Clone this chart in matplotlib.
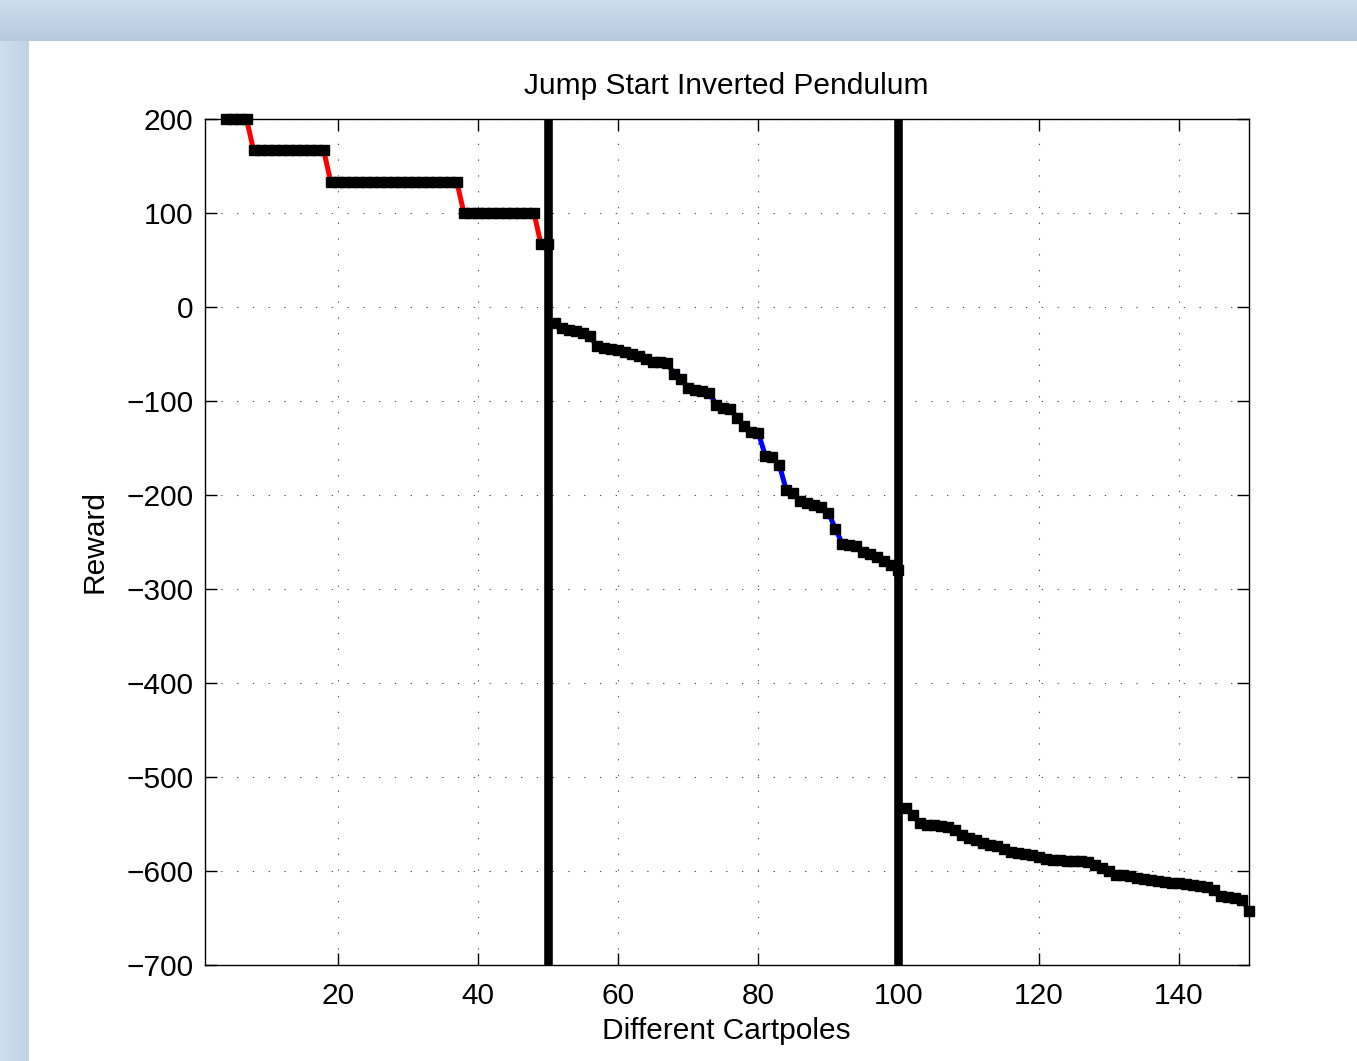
import numpy as np
import matplotlib
matplotlib.use("Agg")
import matplotlib.pyplot as plt

plt.rcParams['font.family'] = ['Liberation Sans', 'DejaVu Sans']

# ---------------- data ----------------
x_red = list(range(1, 51))
y_red = ([233.3] * 3 + [200.0] * 4 + [166.7] * 11 + [133.3] * 19 +
         [100.0] * 11 + [66.7] * 2)

x_blue = list(range(51, 101))
y_blue = [-17, -22, -24, -26, -28, -31, -42, -44, -45, -46,
          -48, -50, -52, -55, -58, -59, -60, -71, -77, -86,
          -88, -89, -91, -104, -107, -108, -118, -127, -133, -134,
          -158, -160, -168, -195, -198, -206, -208, -211, -213, -219,
          -236, -252, -253, -254, -261, -263, -266, -270, -274, -280]

x_green = list(range(101, 151))
y_green = [-533, -540, -549, -551, -551, -552, -553, -556, -562, -565,
           -567, -570, -572, -573, -577, -580, -581, -582, -583, -585,
           -587, -588, -588, -589, -589, -589, -590, -594, -597, -600,
           -604, -604, -605, -607, -609, -610, -611, -612, -613, -613,
           -614, -615, -616, -617, -620, -627, -628, -629, -631, -643]

boundaries = [50, 100]
xticks = [20, 40, 60, 80, 100, 120, 140]
yticks = [-700, -600, -500, -400, -300, -200, -100, 0, 100, 200]
xlim = (1, 150)
ylim = (-700, 200)

title = "Jump Start Inverted Pendulum"
xlabel = "Different Cartpoles"
ylabel = "Reward"

FS = 21.5

# ---------------- figure ----------------
W, H = 1357, 1061
fig = plt.figure(figsize=(W / 100, H / 100), dpi=100)

# screenshot-like background frame
bg = fig.add_axes([0, 0, 1, 1], zorder=-10)
bg.set_axis_off()
img = np.ones((H, W, 3))
top = np.array([205, 222, 240]) / 255.0
edge = np.array([183, 201, 221]) / 255.0
left_in = np.array([192, 210, 229]) / 255.0
for r in range(41):
    t = r / 40.0
    img[r, :, :] = top * (1 - t) + edge * t
for c in range(29):
    t = c / 28.0
    img[41:, c, :] = top * (1 - t) + left_in * t
bg.imshow(img, aspect='auto', extent=[0, 1, 0, 1], interpolation='bilinear')
bg.set_xlim(0, 1)
bg.set_ylim(0, 1)

ax = fig.add_axes([204.5 / W, 1 - 965 / H, (1249 - 204.5) / W, (965 - 119) / H])

series = [(x_red, y_red, '#ff0000'),
          (x_blue, y_blue, '#0000ff'),
          (x_green, y_green, '#00dd00')]
for xs, ys, col in series:
    xs = np.asarray(xs, float)
    ys = np.asarray(ys, float)
    ax.plot(xs, ys, '-', color=col, lw=3.6, zorder=2)
    m = (ys <= ylim[1]) & (ys >= ylim[0])
    ax.plot(xs[m], ys[m], 's', color='k', ms=7.5, mec='k', mfc='k',
            zorder=3, clip_on=False)

for b in boundaries:
    ax.axvline(b, color='k', lw=6.2, zorder=4)

ax.set_xlim(*xlim)
ax.set_ylim(*ylim)
ax.set_xticks(xticks)
ax.set_yticks(yticks)
ax.grid(True, color='#555555', linestyle=(0, (1.2, 13.0)), lw=0.8)
ax.tick_params(direction='in', length=8.5, width=1.0, top=True, right=True,
               labelsize=FS, colors='k')
ax.tick_params(axis='x', pad=12.5)
ax.tick_params(axis='y', pad=8)
for s in ax.spines.values():
    s.set_linewidth(1.0)

ax.set_title(title, fontsize=FS, pad=18)
ax.set_xlabel(xlabel, fontsize=FS, labelpad=5)
ax.set_ylabel(ylabel, fontsize=FS, labelpad=13)

fig.savefig("out.png", dpi=100)
